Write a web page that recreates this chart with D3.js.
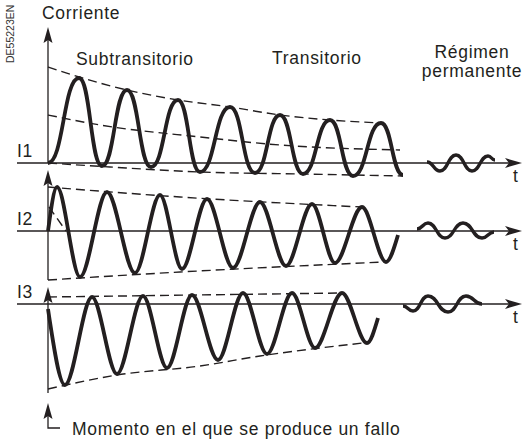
<!DOCTYPE html>
<html>
<head>
<meta charset="utf-8">
<title>Corriente de cortocircuito</title>
<script src="https://cdn.jsdelivr.net/npm/d3@7"></script>
<style>
  body { margin: 0; background: #fff; }
  svg text { font-family: "Liberation Sans", Arial, sans-serif; fill: #231f20; font-size: 17.5px; letter-spacing: 0.7px; }
  .wave { fill: none; stroke: #231f20; stroke-width: 3.8px; stroke-linejoin: round; }
  .env { fill: none; stroke: #231f20; stroke-width: 1.4px; stroke-dasharray: 9 5; }
  .axis { fill: none; stroke: #231f20; stroke-width: 1.3px; }
</style>
</head>
<body>
<script>
// time in ms after the fault, current in arbitrary units (per phase)
var phaseLabels = ["I1", "I2", "I3"];
var stageLabels = ["Subtransitorio", "Transitorio"];
var steadyLabel = ["Régimen", "permanente"];

// peaks and troughs of each phase: [t, i]
var i1Wave = [[0,0],[12.4,85],[21.6,-3],[31.6,73],[41.2,-4],[52,63],[60.8,-9],[72.8,56],
              [82.8,-10],[92.8,48],[102,-11],[112.8,43],[122,-13],[133.2,40],[142,-12]];
var i2Wave = [[0,0],[3.6,44],[12.8,-46],[23.6,39],[34.8,-42],[44.8,36],[53.6,-38],[63.6,32],
              [74,-37],[84.8,29],[95.2,-35],[105.6,27],[114.8,-32],[125.6,24],[135.2,-31],[140,-4]];
var i3Wave = [[0,-5],[6.8,-81],[17.6,7],[27.6,-70],[38,8],[47.6,-64],[57.6,9],[68,-56],
              [78,11],[87.6,-50],[97.6,11],[106.8,-44],[117.6,11],[127.6,-39],[132,-14]];

// steady state (small) waves
var i1Steady = [[151.6,1],[156.8,-8],[163.2,8],[169.6,-8],[176,7],[178.8,3]];
var i2Steady = [[147.6,2],[152,8],[158.8,-7],[166,8],[173.6,-7],[178.4,-1]];
var i3Steady = [[142,-2],[146,-7],[152,8],[160,-8],[167.2,8],[173.6,0]];

// dashed envelopes
var i1Upper = [[0,96],[12.4,86],[31.6,73],[52,63],[72.8,56],[92.8,48],[112.8,43],[133.2,40]];
var i1Dc    = [[0,48],[20.8,38],[60.8,26],[92.8,18],[140.8,13]];
var i1Lower = [[0,0],[24.8,-4],[60.8,-9],[102,-11],[142,-13]];
var i2Upper = [[0,44],[52.8,34],[125.6,24]];
var i2Lower = [[0,-49],[52.8,-41],[134.4,-31]];
var i2Dc    = [[0.4,24],[7.2,0]];
var i3Upper = [[0,7],[117.6,11]];
var i3Lower = [[0,-85],[27.6,-71],[60.8,-62],[84.8,-52],[126,-39]];

var W = 523, H = 441;
var svg = d3.select("body").append("svg").attr("width", W).attr("height", H);

var x = d3.scaleLinear().domain([0, 190]).range([48, 523]);
var baselines = [163, 231, 304];
var yScales = baselines.map(function(b) {
  return d3.scaleLinear().domain([-100, 100]).range([b + 100, b - 100]);
});

function lineFor(y, curve) {
  return d3.line().x(function(d) { return x(d[0]); })
                  .y(function(d) { return y(d[1]); })
                  .curve(curve);
}

// I1 starts and ends on a trough (flat ends), I2 / I3 start and stop mid-swing
var panels = [
  { wave: i1Wave, steady: i1Steady, env: [i1Upper, i1Dc, i1Lower], curve: d3.curveBumpX, axisTop: 27, axisBottom: 163, tY: 182 },
  { wave: i2Wave, steady: i2Steady, env: [i2Upper, i2Lower, i2Dc], curve: d3.curveMonotoneX, axisTop: 170, axisBottom: 280, tY: 250 },
  { wave: i3Wave, steady: i3Steady, env: [i3Upper, i3Lower], curve: d3.curveMonotoneX, axisTop: 287, axisBottom: 393, tY: 323 }
];

function upArrow(g, cx, tip) {
  g.append("path").attr("fill", "#231f20")
    .attr("d", "M" + cx + "," + tip + " L" + (cx + 4.5) + "," + (tip + 16) +
               " L" + cx + "," + (tip + 13) + " L" + (cx - 4.5) + "," + (tip + 16) + "Z");
}
function rightArrow(g, tip, cy) {
  g.append("path").attr("fill", "#231f20")
    .attr("d", "M" + tip + "," + cy + " L" + (tip - 17) + "," + (cy - 5) +
               " L" + (tip - 13) + "," + cy + " L" + (tip - 17) + "," + (cy + 5) + "Z");
}

panels.forEach(function(p, k) {
  var y = yScales[k];
  var g = svg.append("g");
  var x0 = x(0);

  // time axis
  g.append("line").attr("class", "axis")
    .attr("x1", 17).attr("x2", 515).attr("y1", y(0)).attr("y2", y(0));
  rightArrow(g, 522, y(0));
  g.append("text").attr("x", 513).attr("y", p.tY).style("letter-spacing", "0").text("t");

  // current axis
  g.append("line").attr("class", "axis")
    .attr("x1", x0).attr("x2", x0).attr("y1", p.axisBottom).attr("y2", p.axisTop + 10);
  upArrow(g, x0, p.axisTop);

  g.append("text").attr("x", 17).attr("y", y(0) - 6).text(phaseLabels[k]);

  var env = lineFor(y, d3.curveMonotoneX);
  p.env.forEach(function(e) {
    g.append("path").attr("class", "env").attr("d", env(e));
  });
  g.append("path").attr("class", "wave").attr("d", lineFor(y, p.curve)(p.wave));
  g.append("path").attr("class", "wave").attr("d", lineFor(y, d3.curveBumpX)(p.steady))
    .style("stroke-width", "3.4px");
});

// titles
svg.append("text").attr("x", 42).attr("y", 19).text("Corriente");
svg.append("text").attr("x", 76).attr("y", 65).text(stageLabels[0]);
svg.append("text").attr("x", 272).attr("y", 64).text(stageLabels[1]);
svg.append("text").attr("x", 472).attr("y", 58).attr("text-anchor", "middle").text(steadyLabel[0]);
svg.append("text").attr("x", 472).attr("y", 77).attr("text-anchor", "middle").text(steadyLabel[1]);

svg.append("text").attr("transform", "translate(14,63) rotate(-90)")
  .style("font-size", "10.5px").style("letter-spacing", "0").style("fill", "#333").text("DE55223EN");

// fault instant marker
var fm = svg.append("g");
upArrow(fm, x(0), 403);
fm.append("path").attr("class", "axis")
  .attr("d", "M" + x(0) + ",413 V428 H60");
fm.append("text").attr("x", 72).attr("y", 435)
  .text("Momento en el que se produce un fallo");
</script>
</body>
</html>
